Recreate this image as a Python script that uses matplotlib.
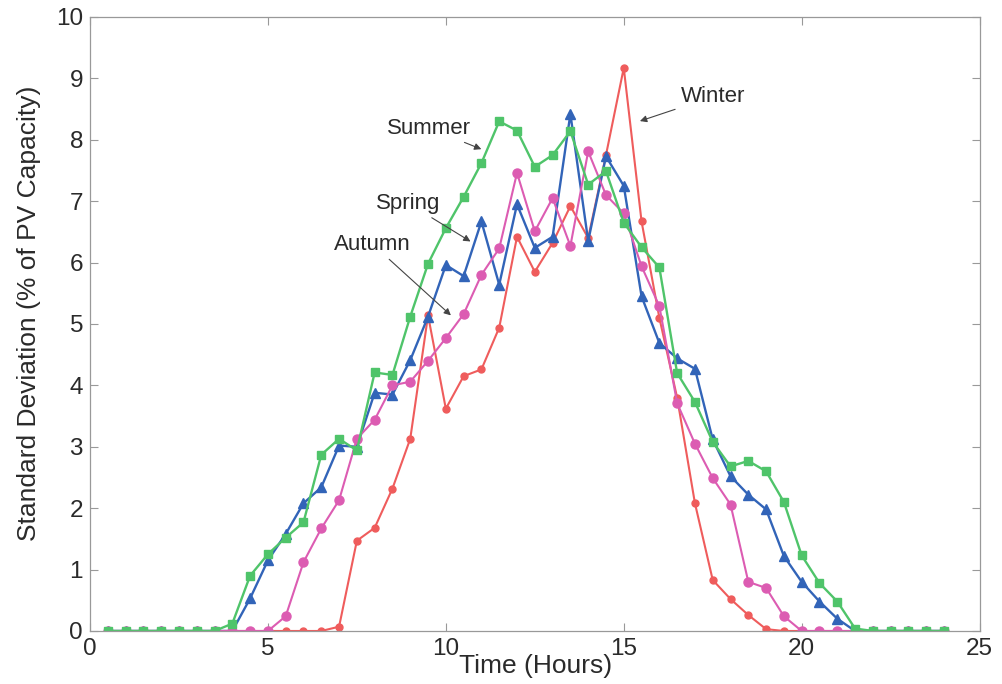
import matplotlib
matplotlib.use("Agg")
import matplotlib.pyplot as plt

plt.rcParams["font.family"] = ["Liberation Sans", "DejaVu Sans"]

# half-hour time steps
hours = [0.5, 1.0, 1.5, 2.0, 2.5, 3.0, 3.5, 4.0, 4.5, 5.0, 5.5, 6.0,
         6.5, 7.0, 7.5, 8.0, 8.5, 9.0, 9.5, 10.0, 10.5, 11.0, 11.5, 12.0,
         12.5, 13.0, 13.5, 14.0, 14.5, 15.0, 15.5, 16.0, 16.5, 17.0, 17.5, 18.0,
         18.5, 19.0, 19.5, 20.0, 20.5, 21.0, 21.5, 22.0, 22.5, 23.0, 23.5, 24.0]

summer = [0, 0, 0, 0, 0, 0, 0, 0.12, 0.90, 1.25, 1.52, 1.77,
          2.87, 3.13, 2.94, 4.21, 4.17, 5.12, 5.98, 6.56, 7.07, 7.62, 8.30, 8.15,
          7.56, 7.75, 8.14, 7.27, 7.49, 6.65, 6.25, 5.92, 4.20, 3.73, 3.08, 2.68,
          2.77, 2.60, 2.10, 1.23, 0.78, 0.48, 0.04, 0, 0, 0, 0, 0]

spring = [0, 0, 0, 0, 0, 0, 0, 0.0, 0.53, 1.15, 1.58, 2.08,
          2.34, 3.02, 3.00, 3.88, 3.85, 4.41, 5.12, 5.96, 5.78, 6.67, 5.64, 6.95,
          6.24, 6.42, 8.42, 6.35, 7.73, 7.25, 5.45, 4.69, 4.44, 4.27, 3.12, 2.52,
          2.22, 1.98, 1.22, 0.80, 0.48, 0.20, 0.0, 0, 0, 0, 0, 0]

autumn = [0, 0, 0, 0, 0, 0, 0, 0, 0, 0, 0.24, 1.12,
          1.67, 2.13, 3.13, 3.44, 4.00, 4.06, 4.40, 4.77, 5.16, 5.80, 6.23, 7.46,
          6.51, 7.05, 6.27, 7.81, 7.10, 6.80, 5.94, 5.29, 3.71, 3.05, 2.49, 2.06,
          0.80, 0.70, 0.24, 0, 0, 0, 0, 0, 0, 0, 0, 0]

winter = [0, 0, 0, 0, 0, 0, 0, 0, 0, 0, 0, 0,
          0, 0.07, 1.47, 1.68, 2.32, 3.13, 5.14, 3.62, 4.15, 4.26, 4.94, 6.42,
          5.85, 6.32, 6.92, 6.40, 7.75, 9.17, 6.67, 5.10, 3.80, 2.08, 0.83, 0.52,
          0.26, 0.03, 0, 0, 0, 0, 0, 0, 0, 0, 0, 0]

GREEN = "#4fc46a"
BLUE = "#3264b8"
MAGENTA = "#dc5cb2"
RED = "#ef5c5c"
TEXT = "#2a2a2a"

fig = plt.figure(figsize=(10.03, 6.84), dpi=100)
ax = fig.add_axes([0.0897, 0.0775, 0.887, 0.8977])

ax.plot(hours, winter, color=RED, marker="o", markersize=5, linewidth=1.5)
ax.plot(hours, spring, color=BLUE, marker="^", markersize=6.5, linewidth=1.7)
ax.plot(hours, autumn, color=MAGENTA, marker="o", markersize=6.5, linewidth=1.5)
ax.plot(hours, summer, color=GREEN, marker="s", markersize=6, linewidth=1.7)

ax.set_xlim(0, 25)
ax.set_ylim(0, 10)
ax.set_xticks([0, 5, 10, 15, 20, 25])
ax.set_yticks(range(0, 11))

ax.tick_params(direction="in", top=True, right=True, length=6, width=0.8,
               colors="#999999", labelcolor=TEXT, labelsize=17.5, pad=5)
for sp in ax.spines.values():
    sp.set_color("#999999")
    sp.set_linewidth(0.9)

ax.set_xlabel("Time (Hours)", fontsize=19, color=TEXT)
ax.xaxis.set_label_coords(0.501, -0.038)
ax.set_ylabel("Standard Deviation (% of PV Capacity)", fontsize=19, color=TEXT)
ax.yaxis.set_label_coords(-0.055, 0.518)

arrow = dict(arrowstyle="-|>", color="#444444", lw=0.8, mutation_scale=10)
ax.annotate("Summer", xy=(11.07, 7.83), xytext=(9.52, 8.19), ha="center", va="center",
            fontsize=16, color=TEXT, arrowprops=arrow)
ax.annotate("Spring", xy=(10.76, 6.32), xytext=(8.93, 6.97), ha="center", va="center",
            fontsize=16, color=TEXT, arrowprops=arrow)
ax.annotate("Autumn", xy=(10.2, 5.11), xytext=(7.94, 6.3), ha="center", va="center",
            fontsize=16, color=TEXT, arrowprops=arrow)
ax.annotate("Winter", xy=(15.38, 8.29), xytext=(17.5, 8.7), ha="center", va="center",
            fontsize=16, color=TEXT, arrowprops=arrow)

fig.savefig("out.png", dpi=100)
